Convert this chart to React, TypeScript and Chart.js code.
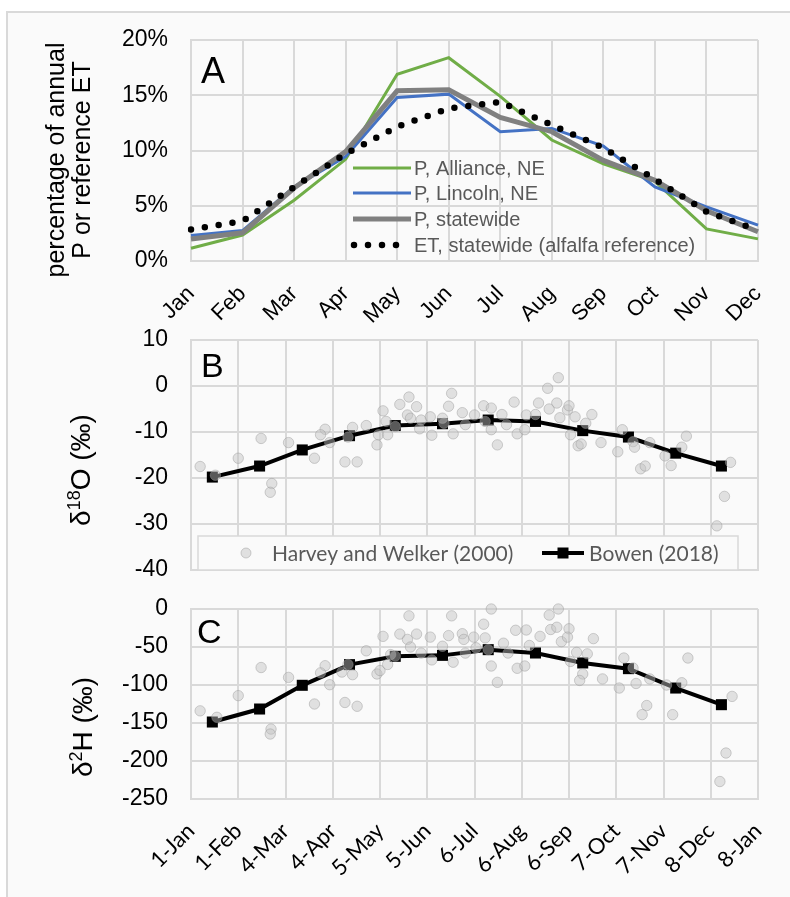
import React, { useEffect, useRef } from 'react';
import { Chart, registerables } from 'chart.js';

Chart.register(...registerables);

// ---------- DATA ----------
const months = ['Jan', 'Feb', 'Mar', 'Apr', 'May', 'Jun', 'Jul', 'Aug', 'Sep', 'Oct', 'Nov', 'Dec'];
const allianceP = [1.15, 2.35, 5.5, 9.2, 16.9, 18.4, 14.9, 10.95, 8.8, 7.2, 2.9, 2.0];
const lincolnP = [2.3, 2.75, 6.7, 9.45, 14.8, 15.1, 11.7, 12.0, 10.4, 6.7, 4.9, 3.25];
const statewideP = [2.0, 2.55, 6.6, 9.9, 15.4, 15.5, 13.0, 11.7, 9.1, 7.3, 4.55, 2.65];
const statewideET = [2.85, 3.6, 6.7, 9.7, 12.15, 13.8, 14.4, 12.3, 10.25, 7.4, 4.45, 2.8];

const dateTickLabels = ['1-Jan', '1-Feb', '4-Mar', '4-Apr', '5-May', '5-Jun', '6-Jul', '6-Aug', '6-Sep', '7-Oct', '7-Nov', '8-Dec', '8-Jan'];
const bowenDays = [14, 45, 73, 104, 134, 165, 195, 226, 257, 287, 318, 348];
const bowenO18 = [-19.8, -17.4, -13.9, -10.8, -8.6, -8.2, -7.4, -7.7, -9.7, -11.1, -14.6, -17.4];
const bowenH2 = [-148.7, -131.6, -100.4, -73.2, -62.3, -61, -53.5, -57.9, -71, -78.5, -104, -125.9];

// Harvey and Welker (2000): [day of year, value]
const harveyO18: [number, number][] = [
  [6, -17.5], [16, -19.4], [31, -15.7], [46, -11.4], [53, -21.2], [52, -23.1], [64, -12.3], [81, -15.7],
  [88, -9.4], [85, -10.6], [91, -12.3], [101, -16.5], [109, -16.5], [103, -11.1], [106, -9.0], [115, -8.6],
  [123, -10.6], [122, -12.8], [129, -10.6], [126, -5.4], [128, -7.7], [137, -4.0], [143, -2.4], [142, -6.3],
  [148, -4.5], [134, -8.8], [144, -7.0], [151, -7.4], [157, -6.7], [150, -9.3], [158, -10.7], [165, -7.0],
  [169, -4.4], [171, -1.6], [172, -10.4], [178, -5.8], [180, -8.4], [166, -8.1], [186, -6.3], [192, -4.3],
  [197, -4.8], [193, -7.7], [197, -9.5], [201, -12.8], [204, -6.2], [207, -8.4], [212, -3.5], [214, -10.4],
  [219, -9.5], [220, -6.3], [226, -6.2], [228, -3.7], [234, -0.5], [241, 1.8], [235, -5.0], [240, -3.7],
  [242, -6.9], [247, -5.2], [248, -4.3], [252, -6.7], [249, -10.6], [254, -13.0], [256, -12.6], [259, -8.1],
  [263, -6.2], [269, -12.3], [280, -14.3], [283, -9.5], [290, -12.1], [291, -13.3], [301, -12.3], [295, -18.0],
  [298, -17.4], [311, -15.2], [315, -17.3], [322, -13.3], [325, -10.9], [354, -16.6], [350, -24.0], [345, -30.4],
];
const harveyH2: [number, number][] = [
  [6, -134], [17, -142.5], [31, -114], [46, -77], [52.5, -158], [52, -164.5], [64, -90], [81, -125],
  [88, -74.6], [85, -84], [91, -99.6], [101, -123], [109, -128], [103, -73], [99, -83], [106, -86.4],
  [115, -55], [122, -85.5], [124, -81], [129, -73], [126, -36], [131, -60], [137, -33], [143, -9],
  [142, -40], [148, -33], [134, -62], [144, -50], [151, -58], [157, -37], [158, -67], [165, -49],
  [169, -35], [171, -9], [172, -70], [178, -32.5], [179, -40], [185.5, -37], [180, -58], [187, -51],
  [192, -20], [197, 0], [193, -38], [195, -53.5], [197, -75], [201, -96.5], [205, -45], [208, -58],
  [213, -28], [214, -78], [220, -27.6], [219, -75], [222, -48], [229, -36], [235, -8], [236, -27],
  [241, 0], [240, -24], [243, -43], [248, -26], [247, -37], [253, -57], [249, -69], [260, -59],
  [264, -39], [257, -85.5], [255, -94], [270, -92], [281, -104], [284, -64.5], [290, -77.6], [292, -98],
  [299, -127], [296, -139], [301, -92], [312, -100], [316, -139], [322, -97], [326, -64.5], [355, -115],
  [351, -189.5], [347, -227],
];

// ---------- STYLE ----------
const GRID = '#d9d9d9';
const SANS = '"Liberation Sans", Arial, sans-serif';
const HUMAN = 'Lato, "Open Sans", sans-serif';
const TEXT_GRAY = '#595959';
const CANVAS_W = 790;
const PLOT_LEFT = 191;
const PLOT_RIGHT = 758;
const SCATTER_FILL = 'rgba(194,194,194,0.46)';
const SCATTER_EDGE = 'rgba(150,150,150,0.45)';

function yFit(scale: any) {
  scale.width = PLOT_LEFT;
  scale.paddingTop = 0;
  scale.paddingBottom = 0;
}
function xFit(h: number) {
  return (scale: any) => {
    scale.height = h;
    scale.paddingLeft = 0;
    scale.paddingRight = 0;
  };
}

function drawRotatedTitle(ctx: CanvasRenderingContext2D, cx: number, cy: number, parts: { t: string; size: number; rise: number }[]) {
  ctx.save();
  ctx.translate(cx, cy);
  ctx.rotate(-Math.PI / 2);
  ctx.fillStyle = '#000';
  ctx.textBaseline = 'alphabetic';
  ctx.textAlign = 'left';
  let total = 0;
  for (const p of parts) {
    ctx.font = `${p.size}px ${SANS}`;
    total += ctx.measureText(p.t).width;
  }
  let x = -total / 2;
  const base = parts[0].size * 0.36;
  for (const p of parts) {
    ctx.font = `${p.size}px ${SANS}`;
    ctx.fillText(p.t, x, base - p.rise);
    x += ctx.measureText(p.t).width;
  }
  ctx.restore();
}

const annotA = {
  id: 'annotA',
  afterDraw(chart: any) {
    const ctx: CanvasRenderingContext2D = chart.ctx;
    ctx.save();
    ctx.fillStyle = '#000';
    ctx.font = `36px ${SANS}`;
    ctx.textBaseline = 'alphabetic';
    ctx.fillText('A', 201, 83);
    // y title two lines
    ctx.save();
    ctx.translate(0, 160);
    ctx.rotate(-Math.PI / 2);
    ctx.font = `25px ${SANS}`;
    ctx.textAlign = 'center';
    ctx.textBaseline = 'middle';
    ctx.fillText('percentage of annual', 0, 57);
    ctx.fillText('P or reference ET', 0, 83);
    ctx.restore();
    // legend
    const items = chart.data.datasets.map((d: any) => d);
    const ys = [168, 193, 219, 245];
    ctx.font = `20px ${SANS}`;
    ctx.textBaseline = 'middle';
    ctx.textAlign = 'left';
    items.forEach((d: any, i: number) => {
      const y = ys[i];
      ctx.save();
      ctx.strokeStyle = d.borderColor;
      ctx.lineWidth = d.borderWidth;
      ctx.lineCap = d.borderCapStyle || 'butt';
      ctx.setLineDash(d.borderDash || []);
      ctx.beginPath();
      ctx.moveTo(d.borderDash ? 354 : 353, y);
      ctx.lineTo(d.borderDash ? 408 : 411, y);
      ctx.stroke();
      ctx.restore();
      ctx.fillStyle = TEXT_GRAY;
      ctx.fillText(d.label, 414, y + 1);
    });
    ctx.restore();
  },
};

const annotB = {
  id: 'annotB',
  afterDraw(chart: any) {
    const ctx: CanvasRenderingContext2D = chart.ctx;
    ctx.save();
    ctx.fillStyle = '#000';
    ctx.font = `34px ${SANS}`;
    ctx.textBaseline = 'alphabetic';
    ctx.fillText('B', 201, 57);
    drawRotatedTitle(ctx, 80, 150, [
      { t: 'δ', size: 28, rise: 0 },
      { t: '18', size: 18, rise: 10 },
      { t: 'O (‰)', size: 28, rise: 0 },
    ]);
    // legend box
    ctx.fillStyle = '#fafafa';
    ctx.strokeStyle = GRID;
    ctx.lineWidth = 1.5;
    ctx.fillRect(198, 216, 540, 34);
    ctx.strokeRect(198, 216, 540, 34);
    const y = 233;
    ctx.beginPath();
    ctx.arc(246, y, 5, 0, Math.PI * 2);
    ctx.fillStyle = SCATTER_FILL;
    ctx.fill();
    ctx.strokeStyle = SCATTER_EDGE;
    ctx.lineWidth = 1;
    ctx.stroke();
    ctx.fillStyle = TEXT_GRAY;
    ctx.font = `21px ${HUMAN}`;
    ctx.textBaseline = 'middle';
    ctx.fillText(chart.data.datasets[0].label, 272, y + 1);
    ctx.strokeStyle = '#000';
    ctx.lineWidth = 4;
    ctx.beginPath();
    ctx.moveTo(542, y);
    ctx.lineTo(584, y);
    ctx.stroke();
    ctx.fillStyle = '#000';
    ctx.fillRect(563 - 5.5, y - 5.5, 11, 11);
    ctx.fillStyle = TEXT_GRAY;
    ctx.fillText(chart.data.datasets[1].label, 589, y + 1);
    ctx.restore();
  },
};

const annotC = {
  id: 'annotC',
  afterDraw(chart: any) {
    const ctx: CanvasRenderingContext2D = chart.ctx;
    ctx.save();
    ctx.fillStyle = '#000';
    ctx.font = `34px ${SANS}`;
    ctx.textBaseline = 'alphabetic';
    ctx.fillText('C', 197, 63);
    drawRotatedTitle(ctx, 82, 147, [
      { t: 'δ', size: 28, rise: 0 },
      { t: '2', size: 18, rise: 10 },
      { t: 'H (‰)', size: 28, rise: 0 },
    ]);
    ctx.restore();
  },
};

function gridOpts() {
  return { color: GRID, lineWidth: 2, drawTicks: false };
}
function borderOpts() {
  return { color: GRID, width: 2 };
}

function isotopeDatasets(scatter: [number, number][], line: number[]) {
  return [
    {
      type: 'scatter',
      label: 'Harvey and Welker (2000)',
      data: scatter.map(([x, y]) => ({ x, y })),
      pointRadius: 5.2,
      pointBackgroundColor: SCATTER_FILL,
      pointBorderColor: SCATTER_EDGE,
      pointBorderWidth: 1,
      showLine: false,
      clip: false,
      order: 0,
    },
    {
      type: 'line',
      label: 'Bowen (2018)',
      data: bowenDays.map((d, i) => ({ x: d, y: line[i] })),
      borderColor: '#000',
      borderWidth: 4,
      pointStyle: 'rect',
      pointRadius: 7.8,
      pointBackgroundColor: '#000',
      pointBorderColor: '#000',
      pointBorderWidth: 0,
      tension: 0,
      clip: false,
      order: 1,
    },
  ];
}

function makeConfigA(): any {
  return {
    type: 'line',
    data: {
      labels: months,
      datasets: [
        { label: 'P, Alliance, NE', data: allianceP, borderColor: '#70AD47', borderWidth: 3, pointRadius: 0, order: 3 },
        { label: 'P, Lincoln, NE', data: lincolnP, borderColor: '#4472C4', borderWidth: 3, pointRadius: 0, order: 2 },
        { label: 'P, statewide', data: statewideP, borderColor: '#808080', borderWidth: 5, pointRadius: 0, order: 1 },
        {
          label: 'ET, statewide (alfalfa reference)', data: statewideET, borderColor: '#000', borderWidth: 6.5,
          borderDash: [0, 14], borderCapStyle: 'round', pointRadius: 0, order: 0,
        },
      ],
    },
    options: {
      responsive: false,
      animation: false,
      devicePixelRatio: 1,
      layout: { padding: { left: 0, top: 40, right: CANVAS_W - PLOT_RIGHT, bottom: 0 }, autoPadding: false },
      plugins: { legend: { display: false }, tooltip: { enabled: false } },
      scales: {
        x: {
          type: 'category',
          offset: false,
          grid: gridOpts(),
          border: borderOpts(),
          ticks: { font: { family: SANS, size: 22 }, color: '#000', maxRotation: 45, minRotation: 45, autoSkip: false, padding: 20 },
          afterFit: xFit(340 - 261),
        },
        y: {
          min: 0,
          max: 20,
          grid: gridOpts(),
          border: borderOpts(),
          ticks: { stepSize: 5, callback: (v: number) => `${v}%`, font: { family: SANS, size: 23 }, color: '#000', padding: 23 },
          afterFit: yFit,
        },
      },
    },
    plugins: [annotA],
  };
}

function makeIsoConfig(scatter: [number, number][], line: number[], yMin: number, yMax: number, step: number, padTop: number, xHeight: number, showX: boolean, plugin: any): any {
  return {
    type: 'line',
    data: { datasets: isotopeDatasets(scatter, line) },
    options: {
      responsive: false,
      animation: false,
      devicePixelRatio: 1,
      layout: { padding: { left: 0, top: padTop, right: CANVAS_W - PLOT_RIGHT, bottom: showX ? 0 : 5 }, autoPadding: false },
      plugins: { legend: { display: false }, tooltip: { enabled: false } },
      scales: {
        x: {
          type: 'linear',
          min: 0,
          max: 372,
          grid: gridOpts(),
          border: borderOpts(),
          ticks: {
            display: showX,
            stepSize: 31,
            autoSkip: false,
            maxRotation: 45,
            minRotation: 45,
            padding: 19,
            font: { family: HUMAN, size: 22 },
            color: '#000',
            callback: (v: number) => dateTickLabels[Math.round(v / 31)] ?? '',
          },
          afterFit: xFit(xHeight),
        },
        y: {
          min: yMin,
          max: yMax,
          grid: gridOpts(),
          border: borderOpts(),
          ticks: { stepSize: step, font: { family: SANS, size: 23 }, color: '#000', padding: 23 },
          afterFit: yFit,
        },
      },
    },
    plugins: [plugin],
  };
}

function ChartCanvas({ top, height, build }: { top: number; height: number; build: () => any }) {
  const ref = useRef<HTMLCanvasElement | null>(null);
  useEffect(() => {
    if (!ref.current) return;
    const chart = new Chart(ref.current, build());
    return () => chart.destroy();
  }, []);
  return (
    <canvas
      ref={ref}
      width={CANVAS_W}
      height={height}
      style={{ position: 'absolute', left: 0, top, width: CANVAS_W, height, display: 'block' }}
    />
  );
}

export default function App() {
  return (
    <div style={{ position: 'absolute', left: 0, top: 0, width: 790, height: 897, overflow: 'hidden', background: '#fff' }}>
      <div
        style={{
          position: 'absolute', left: 6, top: 11, width: 900, height: 1000,
          background: '#fafafa', borderLeft: '2px solid #d9d9d9', borderTop: '2px solid #d9d9d9',
        }}
      />
      <ChartCanvas top={0} height={340} build={makeConfigA} />
      <ChartCanvas top={320} height={260} build={() => makeIsoConfig(harveyO18, bowenO18, -40, 10, 10, 20, 5, false, annotB)} />
      <ChartCanvas top={580} height={317} build={() => makeIsoConfig(harveyH2, bowenH2, -250, 0, 50, 29, 98, true, annotC)} />
    </div>
  );
}
